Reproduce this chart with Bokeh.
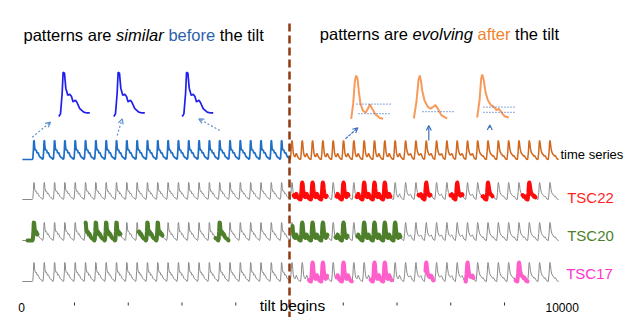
import numpy as np
from bokeh.plotting import figure
from bokeh.models import Range1d, Arrow, OpenHead, Label
from bokeh.embed import file_html
from bokeh.resources import INLINE

# ---------------- data ----------------
tilt_time = 5000
series_start = 30
beat_first_onset = 215
beat_period = 192
n_beats = 51

# one beat, before the tilt (phase within the beat, normalised level)
before_phase = [0, .054, .108, .14, .183, .226, .29, .355, .41, .462, .538, .591, .677, .806, .914, 1]
before_level = [0, .06, .52, 1.0, .98, .64, .48, .50, .45, .33, .37, .31, .18, .10, .08, .08]
# beats after the tilt, three evolving stages
after1_phase = [0, .0625, .115, .156, .198, .24, .29, .365, .448, .52, .583, .656, .76, .896, 1]
after1_level = [0, .35, .88, 1.0, .92, .62, .35, .19, .14, .23, .33, .23, .10, .02, 0]
after2_phase = [0, .08, .14, .18, .22, .25, .32, .42, .50, .58, .65, .72, .82, .95, 1]
after2_level = [0, .40, .90, 1.0, .85, .65, .42, .27, .23, .27, .31, .23, .08, .02, 0]
after3_phase = [0, .074, .126, .158, .21, .263, .337, .442, .526, .61, .684, .758, .863, 1]
after3_level = [0, .40, .90, 1.0, .86, .59, .40, .28, .25, .17, .20, .13, .03, 0]
after_stage_starts = [5000, 7000, 8300]

tsc22_segments = [(5079, 5688), (5874, 6098), (6247, 6879), (7400, 7623),
                  (7995, 8219), (8591, 8777), (9335, 9577)]
tsc20_segments = [(126, 312), (1205, 1856), (2191, 2637), (3623, 3865),
                  (5056, 5707), (5856, 6079), (6265, 7065)]
tsc17_segments = [(5360, 5700), (5880, 6160), (6507, 6900), (7530, 7679),
                  (8274, 8423), (9205, 9428)]
tick_times = [1000, 2000, 3000, 4000, 6000, 7000, 8000, 9000]

# inset windows (time units) and guide levels
blue_inset_left = [708, 1731, 3004]
blue_inset_right = [1284, 2308, 3581]
orange_inset_left = [6148, 7313, 8492]
orange_inset_right = [6743, 7934, 9080]
orange_guide_levels = [[.34, .12], [.16], [.24, .12]]
orange_guide_start = [[6246, 6284], [7474], [8609, 8609]]
orange_guide_end = [[6879, 6879], [8088], [9205, 9205]]

# ---------------- layout helpers ----------------
X0, XS = 20.25, 0.05375          # px of t=0, px per time unit
def px_t(X):
    return (X - X0) / XS
def px_y(Y):
    return 333 - Y

FONT = "Liberation Sans"
W, H = 624, 317

p = figure(width=W, height=H, output_backend="svg", toolbar_location=None,
           x_range=Range1d(px_t(0), px_t(W)), y_range=Range1d(px_y(H), px_y(0)),
           x_axis_type=None, y_axis_type=None, min_border=0)
p.grid.visible = False
p.outline_line_color = None
p.background_fill_color = "white"
p.border_fill_color = "white"

# ---------------- build signal ----------------
def template_for(onset):
    if onset < tilt_time:
        return before_phase, before_level
    stages = [(after1_phase, after1_level), (after2_phase, after2_level), (after3_phase, after3_level)]
    idx = 0
    for i, s in enumerate(after_stage_starts):
        if onset >= s:
            idx = i
    return stages[idx]

ts = [series_start]
lv = [before_level[0]]
for k in range(n_beats):
    onset = beat_first_onset + k * beat_period
    ph, le = template_for(onset)
    last = (k == n_beats - 1)
    pts = zip(ph, le) if last else zip(ph[:-1], le[:-1])
    for a, b in pts:
        ts.append(onset + a * beat_period)
        lv.append(b)
ts = np.array(ts)
lv = np.array(lv)

def piece(a, b):
    m = (ts > a) & (ts < b)
    x = np.concatenate([[a], ts[m], [b]])
    y = np.concatenate([[np.interp(a, ts, lv)], lv[m], [np.interp(b, ts, lv)]])
    return x, y

rows = {"series": (px_y(159), 19), "tsc22": (px_y(199), 17),
        "tsc20": (px_y(240), 18), "tsc17": (px_y(281), 19)}

# time series row: blue before, orange after
base, amp = rows["series"]
xb, yb = piece(ts[0], tilt_time)
xa, ya = piece(tilt_time, ts[-1])
p.line(xa, base + amp * ya, line_color="#D0691F", line_width=1.5)
p.line(xb, base + amp * yb, line_color="#1F6FC6", line_width=1.7)

# TSC rows
for key, segs, col in [("tsc22", tsc22_segments, "#FF0A0A"),
                       ("tsc20", tsc20_segments, "#4E7F2B"),
                       ("tsc17", tsc17_segments, "#FF5FCB")]:
    base, amp = rows[key]
    p.line(ts, base + amp * lv, line_color="#8a8a8a", line_width=1)
    xs, ys = [], []
    for a, b in segs:
        x, y = piece(a, b)
        xs.append(list(x))
        ys.append(list(base + amp * y))
    p.multi_line(xs, ys, line_color=col, line_width=4, line_cap="round", line_join="round")

# insets
def draw_inset(ph, le, tl, tr, yb0, yp, col, w):
    x = [tl + a * (tr - tl) for a in ph]
    y = [yb0 + b * (yp - yb0) for b in le]
    p.line(x, y, line_color=col, line_width=w)

for tl, tr in zip(blue_inset_left, blue_inset_right):
    draw_inset(before_phase, before_level, tl, tr, px_y(116), px_y(71.7), "#1E1EF0", 1.7)

orange_stages = [(after1_phase, after1_level), (after2_phase, after2_level), (after3_phase, after3_level)]
orange_base = [px_y(118.3), px_y(118), px_y(117)]
orange_peak = [px_y(75), px_y(75), px_y(74)]
for i, (tl, tr) in enumerate(zip(orange_inset_left, orange_inset_right)):
    ph, le = orange_stages[i]
    draw_inset(ph, le, tl, tr, orange_base[i], orange_peak[i], "#F79A5C", 2)
    for lvl, g0, g1 in zip(orange_guide_levels[i], orange_guide_start[i], orange_guide_end[i]):
        gy = orange_base[i] + lvl * (orange_peak[i] - orange_base[i])
        p.line([g0, g1], [gy, gy], line_color="#4472C4", line_width=1.3, line_dash="1 2")

# arrows
arrows = [
    (px_t(31.7), px_y(136.7), px_t(50), px_y(121.7), "#5B8FD0", "2 2"),
    (px_t(116.7), px_y(135), px_t(121.7), px_y(118.3), "#5B8FD0", "2 2"),
    (px_t(219.3), px_y(130), px_t(198.3), px_y(118.3), "#5B8FD0", "2 2"),
    (px_t(345), px_y(138.3), px_t(357.3), px_y(127.3), "#3E6FC0", "3 1"),
    (px_t(428.3), px_y(140), px_t(428.3), px_y(125), "#3E6FC0", "solid"),
    (px_t(489.3), px_y(127.5), px_t(489.3), px_y(124.5), "#3E6FC0", "solid"),
]
for x0, y0, x1, y1, c, d in arrows:
    p.add_layout(Arrow(end=OpenHead(size=5, line_color=c, line_width=1.2),
                       x_start=x0, y_start=y0, x_end=x1, y_end=y1,
                       line_color=c, line_width=1.2, line_dash=d))

# tilt line
p.line([tilt_time, tilt_time], [px_y(23), px_y(335)], line_color="#8E3B12",
       line_width=2.5, line_dash="8 4")

# tick marks
p.segment(x0=tick_times, y0=[px_y(302)] * len(tick_times), x1=tick_times,
          y1=[px_y(305)] * len(tick_times), line_color="#333333", line_width=1)

# ---------------- texts ----------------
def lab(text, X, Ybase, size, color="black", style="normal", align="left"):
    p.add_layout(Label(x=px_t(X), y=px_y(Ybase), text=text, text_font=FONT,
                       text_font_size=f"{size}px", text_color=color, text_font_style=style,
                       text_align=align, text_baseline="alphabetic"))

TS = 16.5
lab("patterns are", 23, 34.5, TS)
lab("similar", 115.6, 34.5, TS, style="italic")
lab("before", 167.9, 34.5, TS, color="#2F62AC")
lab("the tilt", 219.2, 34.5, TS)

lab("patterns are", 319.3, 33.5, TS)
lab("evolving", 411.9, 33.5, TS, style="italic")
lab("after", 477.0, 33.5, TS, color="#F2822F")
lab("the tilt", 514.6, 33.5, TS)

lab("time series", 560, 153.5, 13)
lab("TSC22", 566.7, 197, 15, color="#FF1F1F")
lab("TSC20", 566.7, 234.5, 15, color="#4E7F2B")
lab("TSC17", 565.7, 272.5, 15, color="#FF33CC")

lab("0", 21, 307, 12, align="center")
lab("10000", 561.7, 307, 12, align="center")
lab("tilt begins", 292, 305, 15.5, align="center")

open("out.html", "w").write(file_html(p, INLINE))
